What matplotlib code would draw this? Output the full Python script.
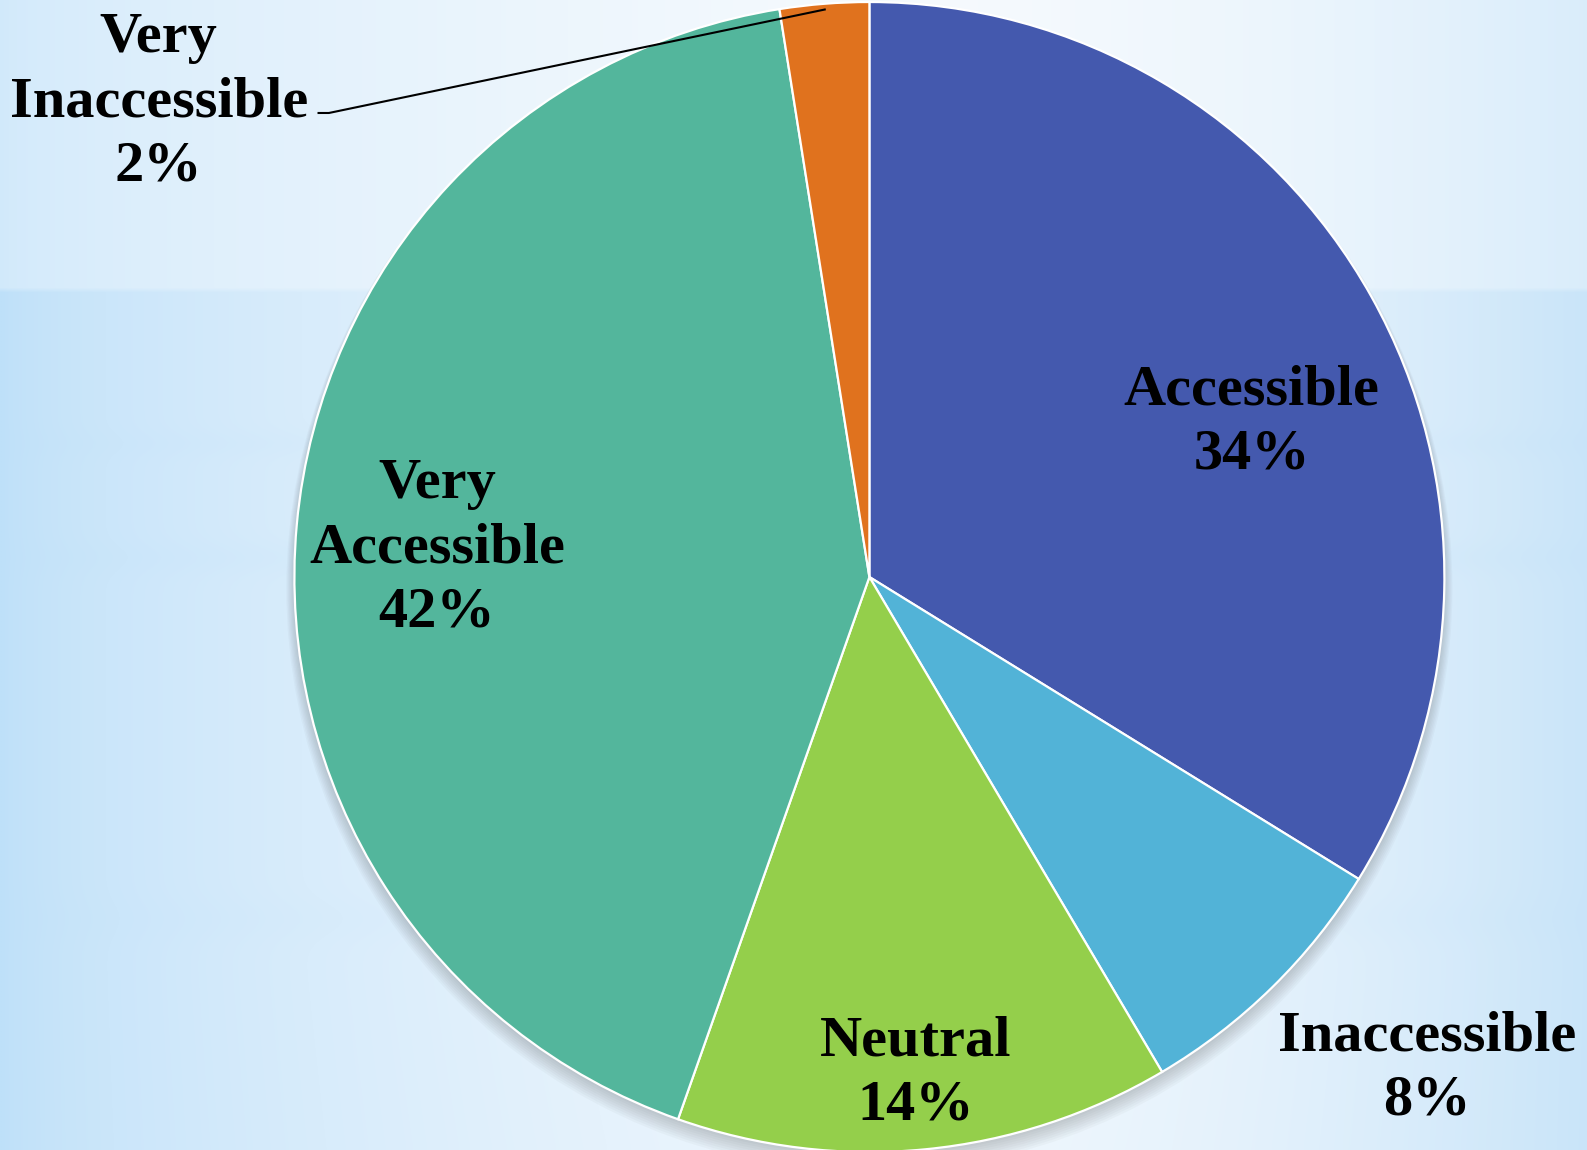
import matplotlib.pyplot as plt
import numpy as np
from matplotlib.patches import Circle

# data
categories = ['Accessible', 'Inaccessible', 'Neutral', 'Very\nAccessible', 'Very\nInaccessible']
shares = [33.8, 7.7, 13.9, 42.1, 2.5]
colors = ['#4459AE', '#52B3D7', '#94CF4B', '#53B69C', '#E0721E']

# label centres, in units of the pie radius (pie centred at 0, 0)
label_xy = [(0.665, 0.268), (0.97, -0.854), (0.081, -0.864), (-0.752, 0.050), (-1.236, 0.826)]

fig = plt.figure(figsize=(15.87, 11.5), dpi=100)
ax = fig.add_axes([0, 0, 1, 1])
xlim = (-1.512, 1.248)
ylim = (-0.9965, 1.0035)

# background: bluish left edge, near white middle, light blue right edge
h, w = 230, 320
xs = np.linspace(0, 1, w)
ys = np.linspace(0, 1, h)
left = np.array([190, 224, 249]) / 255
mid = np.array([242, 248, 253]) / 255
right = np.array([202, 229, 249]) / 255
row = np.zeros((w, 3))
for i, x in enumerate(xs):
    if x < 0.55:
        t = (x / 0.55) ** 0.65
        row[i] = left + (mid - left) * t
    else:
        t = ((x - 0.55) / 0.45) ** 1.8
        row[i] = mid + (right - mid) * t
bg = np.repeat(row[None, :, :], h, axis=0)
white = np.ones(3)
for j, y in enumerate(ys):
    if y < 0.25:
        bg[j] = bg[j] + (white - bg[j]) * 0.3
    else:
        # faint horizontal streaks
        s = 0.10 * np.exp(-((y - 0.385) / 0.012) ** 2) + 0.12 * np.exp(-((y - 0.485) / 0.015) ** 2) \
            + 0.08 * np.exp(-((y - 0.80) / 0.02) ** 2) + 0.25 * max(0, y - 0.8)
        bg[j] = bg[j] - (bg[j] - left) * s
ax.imshow(bg, extent=(xlim[0], xlim[1], ylim[0], ylim[1]), origin='upper',
          aspect='auto', interpolation='bilinear', zorder=0)

# soft shadow under the pie
for k in range(8):
    ax.add_patch(Circle((0, -0.006 - 0.002 * k), 1.0 + 0.002 * k, color='#505050',
                        alpha=0.035, lw=0, zorder=1))

wedges, _ = ax.pie(shares, colors=colors, startangle=90, counterclock=False, radius=1,
                   wedgeprops=dict(edgecolor='white', linewidth=1.6, zorder=2))

for cat, share, (x, y) in zip(categories, shares, label_xy):
    ax.text(x, y, f'{cat}\n{share:.0f}%', ha='center', va='center', fontsize=42,
            family='Liberation Serif', weight='bold', linespacing=1.3, zorder=4)

# leader line for the small slice
w_small = wedges[4]
ang = np.deg2rad((w_small.theta1 + w_small.theta2) / 2)
ex, ey = 0.99 * np.cos(ang), 0.99 * np.sin(ang)
ax.plot([-0.958, -0.94, ex], [0.807, 0.807, ey], color='black', lw=1.5, zorder=3)

ax.set_xlim(*xlim)
ax.set_ylim(*ylim)
ax.set_aspect('auto')
ax.axis('off')

fig.savefig('out.png', dpi=100)
